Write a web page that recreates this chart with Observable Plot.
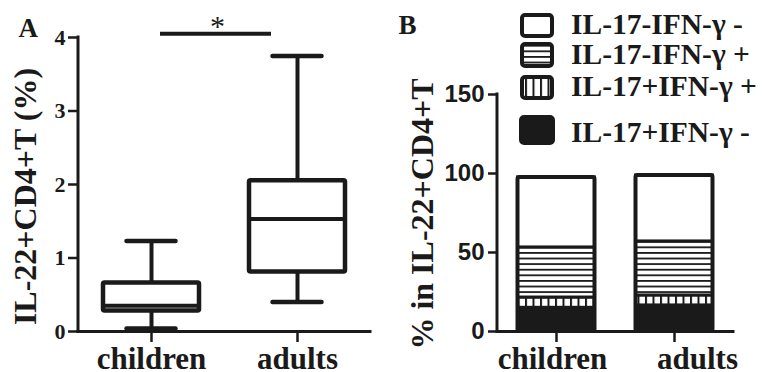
<!DOCTYPE html>
<html><head><meta charset="utf-8">
<script src="https://cdn.jsdelivr.net/npm/d3@7"></script>
<script src="https://cdn.jsdelivr.net/npm/@observablehq/plot@0.6"></script>
<style>
html,body{margin:0;padding:0;background:#fff;}
#wrap{position:relative;width:772px;height:372px;overflow:hidden;background:#fff;}
#wrap > svg{position:absolute;top:0;}
</style></head><body><div id="wrap"></div>
<script>
// ---------- data ----------
const groups = ["children", "adults"];
// Panel A: box plot of IL-22+CD4+T (%)
const boxMin    = [0.04, 0.40];
const boxQ1     = [0.28, 0.81];
const boxMedian = [0.35, 1.53];
const boxQ3     = [0.66, 2.05];
const boxMax    = [1.23, 3.75];
const yTicksA   = [0, 1, 2, 3, 4];
const sigLevel  = 4.05;
const sigLabel  = "*";
// Panel B: stacked composition (bottom to top)
const types = ["IL-17+IFN-γ -", "IL-17+IFN-γ +", "IL-17-IFN-γ +", "IL-17-IFN-γ -"];
const childrenPct = [15.0, 6.5, 31.7, 44.3];
const adultsPct   = [16.5, 6.3, 34.2, 41.7];
const yTicksB = [0, 50, 100, 150];
const legendOrder = ["IL-17-IFN-γ -", "IL-17-IFN-γ +", "IL-17+IFN-γ +", "IL-17+IFN-γ -"];

// ---------- styling ----------
const ink = "#1a1a1a";
const serif = "Liberation Serif";
const sans = "Liberation Sans";
const fills = [ink, "url(#vst)", "url(#hst)", "white"];
const NS = "http://www.w3.org/2000/svg";

function yAxisLine(w) {
  return (index, scales, values, dims) => {
    const l = document.createElementNS(NS, "line");
    l.setAttribute("x1", dims.marginLeft); l.setAttribute("x2", dims.marginLeft);
    l.setAttribute("y1", dims.marginTop); l.setAttribute("y2", dims.height - dims.marginBottom);
    l.setAttribute("stroke", ink); l.setAttribute("stroke-width", w);
    l.setAttribute("stroke-linecap", "square");
    return l;
  };
}

const wrap = document.getElementById("wrap");

// ---------- Panel A ----------
const boxes = groups.map((g, i) => ({group: g, min: boxMin[i], q1: boxQ1[i], med: boxMedian[i], q3: boxQ3[i], max: boxMax[i]}));
const sig = [{from: groups[0], to: groups[1], level: sigLevel, label: sigLabel}];
const boxW = 25, capW = 48.5;

const plotA = Plot.plot({
  width: 390, height: 372,
  marginLeft: 78, marginRight: 20, marginTop: 37, marginBottom: 41,
  x: {type: "band", domain: groups, padding: 0, label: null},
  y: {domain: [0, 4], label: null},
  style: {fontFamily: serif, fontWeight: "bold", color: ink, background: "white", overflow: "visible"},
  marks: [
    Plot.axisY({ticks: yTicksA, tickFormat: "d", tickSize: 10, tickPadding: 3, fontSize: 22, fontFamily: serif, fontWeight: "bold", strokeWidth: 2.5, label: null}),
    Plot.axisX({tickSize: 11, tickPadding: 4, fontSize: 31, fontFamily: serif, fontWeight: "bold", strokeWidth: 2.5, label: null}),
    Plot.ruleY([0], {stroke: ink, strokeWidth: 3, strokeLinecap: "square"}),
    yAxisLine(3),
    Plot.ruleX(boxes, {x: "group", y1: "min", y2: "q1", stroke: ink, strokeWidth: 4}),
    Plot.ruleX(boxes, {x: "group", y1: "q3", y2: "max", stroke: ink, strokeWidth: 4}),
    Plot.barY(boxes, {x: "group", y1: "q1", y2: "q3", fill: "white", stroke: ink, strokeWidth: 4.5, insetLeft: boxW, insetRight: boxW, rx: 1.5}),
    Plot.tickY(boxes, {x: "group", y: "med", stroke: ink, strokeWidth: 4, insetLeft: boxW, insetRight: boxW}),
    Plot.tickY(boxes, {x: "group", y: "min", stroke: ink, strokeWidth: 4.5, strokeLinecap: "round", insetLeft: capW, insetRight: capW}),
    Plot.tickY(boxes, {x: "group", y: "max", stroke: ink, strokeWidth: 4.5, strokeLinecap: "round", insetLeft: capW, insetRight: capW}),
    Plot.ruleY(sig, {y: "level", x1: "from", x2: "to", stroke: ink, strokeWidth: 4, insetLeft: 82, insetRight: 99}),
    Plot.text(sig, {x: "from", y: "level", text: "label", dx: 66, dy: 2, lineAnchor: "bottom", fontSize: 30, fontWeight: "normal", fontFamily: serif, fill: ink}),
    Plot.text(["IL-22+CD4+T (%)"], {text: d => d, frameAnchor: "left", textAnchor: "middle", rotate: -90, dx: -43, dy: 12, lineAnchor: "bottom", fontSize: 32, fontFamily: serif, fontWeight: "bold", fill: ink}),
    Plot.text(["A"], {text: d => d, frameAnchor: "top-left", textAnchor: "start", lineAnchor: "bottom", dx: -60, dy: -1, fontSize: 27, fontFamily: serif, fontWeight: "bold", fill: ink})
  ]
});
plotA.style.left = "0px";
wrap.appendChild(plotA);

// ---------- Panel B ----------
const segs = [];
groups.forEach((g, gi) => {
  const vals = gi === 0 ? childrenPct : adultsPct;
  types.forEach((t, ti) => segs.push({group: g, type: t, value: vals[ti]}));
});
const totals = groups.map((g, gi) => ({group: g, total: d3.sum(gi === 0 ? childrenPct : adultsPct)}));
const barIn = 20.5;

const plotB = Plot.plot({
  width: 382, height: 372,
  marginLeft: 107, marginRight: 39, marginTop: 94, marginBottom: 41,
  x: {type: "band", domain: groups, padding: 0, label: null},
  y: {domain: [0, 150], label: null},
  color: {type: "ordinal", domain: types, range: fills},
  style: {fontFamily: serif, fontWeight: "bold", color: ink, background: "white", overflow: "visible"},
  marks: [
    Plot.barY(segs, {x: "group", y: "value", fill: "type", stroke: ink, strokeWidth: 3, insetLeft: barIn, insetRight: barIn}),
    Plot.barY(totals, {x: "group", y: "total", fill: "none", stroke: ink, strokeWidth: 4, insetLeft: barIn, insetRight: barIn, rx: 2}),
    Plot.axisY({ticks: yTicksB, tickFormat: "d", tickSize: 9, tickPadding: 4, fontSize: 24, fontFamily: sans, fontWeight: "bold", strokeWidth: 2.5, label: null}),
    Plot.axisX({tickSize: 11, tickFormat: () => "", strokeWidth: 2.5, label: null}),
    Plot.axisX({ticks: [groups[0]], tickSize: 0, tickPadding: 15, dx: -4, fontSize: 31, fontFamily: serif, fontWeight: "bold", label: null}),
    Plot.axisX({ticks: [groups[1]], tickSize: 0, tickPadding: 15, dx: 23, fontSize: 31, fontFamily: serif, fontWeight: "bold", label: null}),
    Plot.ruleY([0], {stroke: ink, strokeWidth: 3, strokeLinecap: "square"}),
    yAxisLine(3),
    Plot.text(["% in IL-22+CD4+T"], {text: d => d, frameAnchor: "left", textAnchor: "middle", rotate: -90, dx: -65, dy: 1, lineAnchor: "bottom", fontSize: 32, fontFamily: serif, fontWeight: "bold", fill: ink}),
    Plot.text(["B"], {text: d => d, frameAnchor: "top-left", textAnchor: "start", lineAnchor: "bottom", dx: -99, dy: -61, fontSize: 27, fontFamily: serif, fontWeight: "bold", fill: ink})
  ]
});
plotB.style.left = "390px";
wrap.appendChild(plotB);

// ---------- patterns + legend overlay ----------
const ov = d3.select(wrap).append("svg")
  .attr("width", 772).attr("height", 372)
  .style("left", "0px").style("pointer-events", "none");
const defs = ov.append("defs");
const hp = defs.append("pattern").attr("id", "hst").attr("patternUnits", "userSpaceOnUse").attr("width", 8).attr("height", 5.6);
hp.append("rect").attr("width", 8).attr("height", 5.6).attr("fill", "white");
hp.append("rect").attr("width", 8).attr("height", 1.8).attr("fill", ink);
const vp = defs.append("pattern").attr("id", "vst").attr("patternUnits", "userSpaceOnUse").attr("width", 7.5).attr("height", 8);
vp.append("rect").attr("width", 7.5).attr("height", 8).attr("fill", "white");
vp.append("rect").attr("width", 2).attr("height", 8).attr("fill", ink);

const fillOf = t => fills[types.indexOf(t)];
const rowCenter = [25.5, 55, 87.5, 130];
const rowH = [21, 22, 21, 26];
const lg = ov.append("g");
legendOrder.forEach((t, i) => {
  const h = rowH[i], w = i === 3 ? 32 : 30;
  lg.append("rect").attr("x", 537 - w / 2).attr("y", rowCenter[i] - h / 2)
    .attr("width", w).attr("height", h).attr("rx", 3)
    .attr("fill", fillOf(t)).attr("stroke", ink).attr("stroke-width", 4);
  lg.append("text").attr("x", 571).attr("y", rowCenter[i] + (i === 3 ? 12 : 8.5))
    .attr("font-family", serif).attr("font-weight", "bold").attr("font-size", 29.5)
    .attr("fill", ink).text(t);
});
</script></body></html>
